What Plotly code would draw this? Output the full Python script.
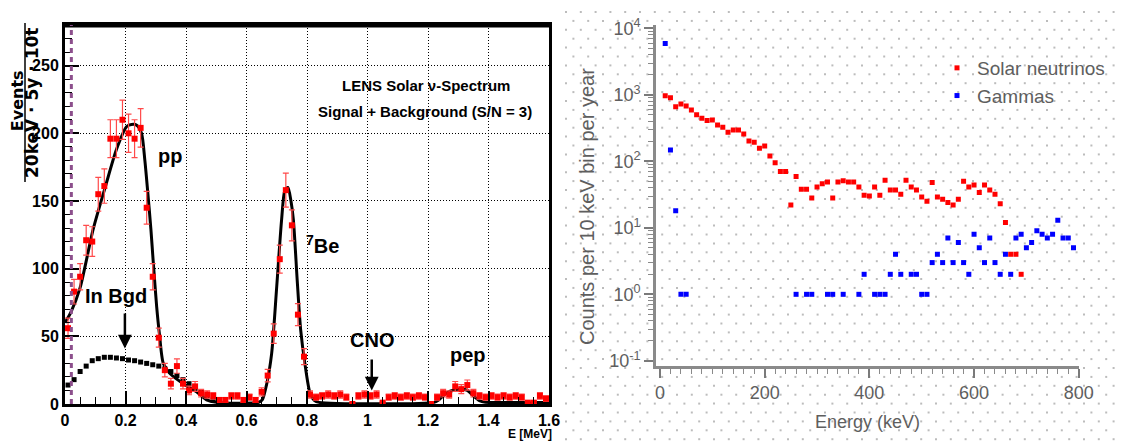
import numpy as np
import plotly.graph_objects as go

# page is 1124x444; the html body adds an 8px margin, so the figure is 1116x436
OFF = 8
W, H = 1124 - OFF, 444 - OFF

# ---------------- Left panel: LENS spectrum ----------------
bin_energy = [0.01, 0.03, 0.05, 0.07, 0.09, 0.11, 0.13, 0.15, 0.17, 0.19,
              0.21, 0.23, 0.25, 0.27, 0.29, 0.31, 0.33, 0.35, 0.37, 0.39,
              0.41, 0.43, 0.45, 0.47, 0.49, 0.51, 0.53, 0.55, 0.57, 0.59,
              0.61, 0.63, 0.65, 0.67, 0.69, 0.71, 0.73, 0.75, 0.77, 0.79,
              0.81, 0.83, 0.85, 0.87, 0.89, 0.91, 0.93, 0.95, 0.97, 0.99,
              1.01, 1.03, 1.05, 1.07, 1.09, 1.11, 1.13, 1.15, 1.17, 1.19,
              1.21, 1.23, 1.25, 1.27, 1.29, 1.31, 1.33, 1.35, 1.37, 1.39,
              1.41, 1.43, 1.45, 1.47, 1.49, 1.51, 1.53, 1.55, 1.57, 1.59]
events = [56, 83, 94, 121, 120, 155, 161, 196, 196, 210,
          200, 196, 204, 145, 94, 49, 25, 15, 28, 15,
          10, 13, 8, 7, 6, 3, 3, 6, 6, 3,
          5, 3, 9, 21, 52, 107, 158, 132, 66, 35,
          7, 5, 6, 7, 6, 7, 5, 0, 6, 7,
          6, 7, 1, 5, 6, 5, 6, 5, 6, 5,
          0, 5, 8, 7, 13, 11, 14, 8, 6, 5,
          6, 5, 6, 5, 6, 5, 1, 1, 6, 4]
events_err = list(np.sqrt(np.array(events, dtype=float)))

fit_energy = [0.0, 0.02, 0.05, 0.093, 0.134, 0.17, 0.204, 0.22, 0.237, 0.253,
              0.264, 0.273, 0.284, 0.292, 0.303, 0.312, 0.325, 0.347, 0.391,
              0.435, 0.468, 0.50, 0.64, 0.652, 0.667, 0.683, 0.70, 0.716,
              0.727, 0.737, 0.747, 0.755, 0.768, 0.779, 0.793, 0.81, 0.825,
              0.84, 1.22, 1.235, 1.26, 1.29, 1.31, 1.33, 1.35, 1.37, 1.39,
              1.41, 1.6]
fit_events = [60, 68, 86, 129, 161, 188, 205, 206.5, 206, 200,
              180, 158, 129, 104, 72, 52, 30, 22.5, 15,
              9, 3, 1.2, 1.2, 3, 15, 37, 87, 136,
              158, 160, 150, 136, 90, 55, 30, 8, 2.5,
              1.2, 1.2, 3, 8, 10.5, 11, 10, 6, 2.5, 1.3,
              1.2, 1.2]

bgd_energy = [0.01, 0.03, 0.05, 0.07, 0.09, 0.11, 0.13, 0.15, 0.17, 0.19,
              0.21, 0.23, 0.25, 0.27, 0.29, 0.31, 0.33, 0.35, 0.37, 0.39,
              0.41, 0.43, 0.45, 0.47, 0.49]
bgd_events = [14, 18, 24, 28, 32, 33.5, 34.5, 34.5, 34, 33.5,
              32.5, 32, 31, 30, 29, 28, 26, 24, 21, 18,
              15, 12, 9, 6, 3]

left_xticks = [0, 0.2, 0.4, 0.6, 0.8, 1.0, 1.2, 1.4, 1.6]
left_xtext = ["0", "0.2", "0.4", "0.6", "0.8", "1", "1.2", "1.4", "1.6"]
left_yticks = [0, 50, 100, 150, 200, 250]
left_ytext = ["0", "50", "100", "150", "200", "250"]

# ---------------- Right panel: counts per 10 keV ----------------
sn_energy = [10, 20, 30, 40, 50, 60, 70, 80, 90, 100,
             110, 120, 130, 140, 150, 160, 170, 180, 190, 200,
             210, 220, 230, 240, 250, 260, 270, 280, 290, 300,
             310, 320, 330, 340, 350, 360, 370, 380, 390, 400,
             410, 420, 430, 440, 450, 460, 470, 480, 490, 500,
             510, 520, 530, 540, 550, 560, 570, 580, 590, 600,
             610, 620, 630, 640, 650, 660, 670, 680, 690]
sn_counts = [970, 900, 660, 725, 680, 590, 500, 445, 410, 418,
             352, 324, 274, 296, 296, 258, 202, 193, 157, 170,
             120, 95, 70, 70, 22, 59, 38, 38, 28, 41,
             46, 49, 28, 49, 51, 49, 49, 41, 31, 30,
             41, 31, 52, 37, 37, 32, 52, 41, 37, 29,
             25, 48, 29, 27, 24, 22, 27, 50, 41, 44,
             34, 44, 37, 32, 23, 12, 4, 4, 2]

gam_energy = [10, 20, 30, 40, 50, 260, 280, 290, 320, 330,
              350, 380, 390, 410, 420, 430, 440, 450, 460, 480,
              490, 500, 510, 520, 530, 540, 550, 560, 570, 580,
              590, 600, 610, 620, 630, 640, 650, 660, 670, 680,
              690, 700, 710, 720, 730, 740, 750, 760, 770, 780,
              790]
gam_counts = [5900, 148, 18, 1, 1, 1, 1, 1, 1, 1,
              1, 1, 2, 1, 1, 1, 2, 4, 2, 2,
              2, 1, 1, 3, 4, 3, 7, 3, 6, 3,
              2, 8, 5, 3, 7, 3, 2, 4, 2, 7,
              8, 5, 6, 9, 8, 7, 8, 13, 7, 7,
              5]

right_xticks = [0, 200, 400, 600, 800]
right_xtext = ["0", "200", "400", "600", "800"]
right_yticks = [0.1, 1, 10, 100, 1000, 10000]
right_ytext = ["10<sup>-1</sup>", "10<sup>0</sup>", "10<sup>1</sup>",
               "10<sup>2</sup>", "10<sup>3</sup>", "10<sup>4</sup>"]

SANS = "Liberation Sans, Arial, Helvetica"
GREY = "#5e5e5e"


def px(x):
    """page pixel x -> paper fraction"""
    return (x - OFF) / W


def py(y):
    """page pixel y -> paper fraction"""
    return 1 - (y - OFF) / H


fig = go.Figure()

# background dotted pattern of the right picture (decoration, page-pixel space)
dot_x, dot_y = [], []
for r, yy in enumerate(np.arange(12.0, 444.0, 8.9)):
    off = 7.4 if r % 2 else 0.0
    for xx in np.arange(566.0 + off, 1124.0, 14.8):
        dot_x.append(xx)
        dot_y.append(yy)
fig.add_trace(go.Scatter(x=dot_x, y=dot_y, mode="markers", xaxis="x2", yaxis="y2",
                         marker=dict(symbol="square", size=2, color="#bcbcbc", line=dict(width=0)),
                         showlegend=False, hoverinfo="skip"))

# left panel traces
fig.add_trace(go.Scatter(x=bgd_energy, y=bgd_events, mode="markers",
                         marker=dict(symbol="square", size=5, color="black", line=dict(width=0)),
                         showlegend=False))
fig.add_trace(go.Scatter(x=fit_energy, y=fit_events, mode="lines",
                         line=dict(color="black", width=3, shape="spline", smoothing=0.7),
                         showlegend=False))
fig.add_trace(go.Scatter(x=bin_energy, y=events, mode="markers",
                         marker=dict(symbol="square", size=6, color="#ff0000", line=dict(width=0)),
                         error_y=dict(type="data", array=events_err, color="#ff4a4a",
                                      thickness=1.2, width=3),
                         showlegend=False))

# right panel traces
fig.add_trace(go.Scatter(x=sn_energy, y=sn_counts, mode="markers", xaxis="x3", yaxis="y3",
                         name="Solar neutrinos",
                         marker=dict(symbol="square", size=5, color="#ff0000", line=dict(width=0))))
fig.add_trace(go.Scatter(x=gam_energy, y=gam_counts, mode="markers", xaxis="x3", yaxis="y3",
                         name="Gammas",
                         marker=dict(symbol="square", size=5, color="#0000ff", line=dict(width=0))))

tickfont_l = dict(family=SANS, size=16, color="black", weight="bold")
tickfont_r = dict(family=SANS, size=18, color=GREY)

fig.update_layout(
    template="none",
    width=W, height=H,
    margin=dict(l=0, r=0, t=0, b=0, pad=0, autoexpand=False),
    paper_bgcolor="white",
    plot_bgcolor="rgba(0,0,0,0)",
    showlegend=True,
    legend=dict(x=px(937), y=py(49), xanchor="left", yanchor="top",
                bgcolor="rgba(0,0,0,0)", font=dict(family=SANS, size=19, color=GREY),
                itemwidth=30, tracegroupgap=0),
    xaxis=dict(domain=[px(65), px(549)], range=[0, 1.6], automargin=False,
               tickmode="array", tickvals=left_xticks, ticktext=left_xtext,
               ticks="inside", ticklen=13, tickwidth=1.5, tickcolor="black",
               minor=dict(dtick=0.05, ticks="inside", ticklen=7, tickwidth=1.2, tickcolor="black", showgrid=False),
               showline=True, linecolor="black", linewidth=3, mirror=True,
               showgrid=True, gridcolor="black", gridwidth=1, griddash="1px,2px",
               zeroline=False, tickfont=tickfont_l),
    yaxis=dict(domain=[py(404), py(25)], range=[0, 280], automargin=False,
               tickmode="array", tickvals=left_yticks, ticktext=left_ytext,
               ticks="inside", ticklen=14, tickwidth=1.5, tickcolor="black",
               minor=dict(dtick=10, ticks="inside", ticklen=7, tickwidth=1.2, tickcolor="black", showgrid=False),
               showline=True, linecolor="black", linewidth=3, mirror=True,
               showgrid=True, gridcolor="black", gridwidth=1, griddash="1px,2px",
               zeroline=False, tickfont=tickfont_l),
    xaxis2=dict(domain=[px(560), 1], range=[560, 1124], visible=False, fixedrange=True, automargin=False),
    yaxis2=dict(domain=[0, 1], range=[444, OFF], visible=False, fixedrange=True, automargin=False),
    xaxis3=dict(domain=[px(655.8), px(1079)], range=[-8, 800.5], anchor="y3", automargin=False,
                tickmode="array", tickvals=right_xticks, ticktext=right_xtext,
                ticks="outside", ticklen=9, tickwidth=1.5, tickcolor="#7a7a7a",
                minor=dict(dtick=20, ticks="outside", ticklen=5, tickwidth=1.2, tickcolor="#8a8a8a", showgrid=False),
                showline=True, linecolor="#8a8a8a", linewidth=2.5,
                showgrid=False, zeroline=False, tickfont=tickfont_r),
    yaxis3=dict(domain=[py(366), py(25)], type="log", range=[-1.078, 4.05], anchor="x3", automargin=False,
                tickmode="array", tickvals=right_yticks, ticktext=right_ytext,
                ticks="outside", ticklen=9, tickwidth=1.5, tickcolor="#7a7a7a",
                minor=dict(tickvals=[m * d for d in [0.1, 1, 10, 100, 1000] for m in range(2, 10)],
                           ticks="outside", ticklen=5, tickwidth=1.2, tickcolor="#8a8a8a", showgrid=False),
                showline=True, linecolor="#8a8a8a", linewidth=2.5,
                showgrid=False, zeroline=False, tickfont=tickfont_r),
)

shapes = [
    # thick top frame
    dict(type="line", xref="paper", yref="paper", x0=px(63.5), x1=px(550.5), y0=py(25), y1=py(25),
         line=dict(color="black", width=5)),
    # purple dotted threshold line
    dict(type="line", xref="x", yref="y", x0=0.021, x1=0.021, y0=0, y1=280,
         line=dict(color="#8c4f8c", width=3, dash="5px,4px")),
    # fraction bar of the y title
    dict(type="line", xref="paper", yref="paper", x0=px(25), x1=px(25), y0=py(23), y1=py(182),
         line=dict(color="black", width=1.5)),
]
fig.update_layout(shapes=shapes)

C = dict(xanchor="center", yanchor="middle", showarrow=False)
ann_font = dict(family=SANS, size=20, color="black", weight="bold")
annotations = [
    dict(xref="paper", yref="paper", x=px(17.2), y=py(101), text="Events", textangle=-90,
         borderpad=0, font=dict(family="DejaVu Sans", size=16, color="black", weight="bold"), **C),
    dict(xref="paper", yref="paper", x=px(32), y=py(103), text="20keV · 5y · 10t", textangle=-90,
         borderpad=0, font=dict(family="DejaVu Sans", size=17, color="black", weight="bold"), **C),
    dict(xref="paper", yref="paper", x=px(530), y=py(434), text="E [MeV]",
         font=dict(family=SANS, size=12, color="black", weight="bold"), **C),
    dict(xref="x", yref="y", x=1.195, y=235, text="LENS Solar ν-Spectrum",
         font=dict(family=SANS, size=15, color="black", weight="bold"), **C),
    dict(xref="x", yref="y", x=1.19, y=216, text="Signal + Background (S/N = 3)",
         font=dict(family=SANS, size=15, color="black", weight="bold"), **C),
    dict(xref="x", yref="y", x=0.347, y=183, text="pp", font=ann_font, **C),
    dict(xref="x", yref="y", x=0.85, y=118, text="<sup>7</sup>Be", font=ann_font, **C),
    dict(xref="x", yref="y", x=0.17, y=80, text="In Bgd", font=ann_font, **C),
    dict(xref="x", yref="y", x=1.014, y=47, text="CNO", font=ann_font, **C),
    dict(xref="x", yref="y", x=1.333, y=36, text="pep", font=ann_font, **C),
    dict(xref="x", yref="y", x=0.198, y=41, ax=0.198, ay=68, axref="x", ayref="y", text="",
         showarrow=True, arrowhead=2, arrowsize=1.1, arrowwidth=2.5, arrowcolor="black"),
    dict(xref="x", yref="y", x=1.014, y=10, ax=1.014, ay=34, axref="x", ayref="y", text="",
         showarrow=True, arrowhead=2, arrowsize=1.1, arrowwidth=2.5, arrowcolor="black"),
    # right panel titles
    dict(xref="paper", yref="paper", x=px(587), y=py(207), text="Counts per 10 keV bin per year",
         textangle=-90, font=dict(family=SANS, size=20, color=GREY), **C),
    dict(xref="paper", yref="paper", x=px(867), y=py(422), text="Energy (keV)",
         font=dict(family=SANS, size=18, color=GREY), **C),
]
fig.update_layout(annotations=annotations)

fig.write_html("out.html")
